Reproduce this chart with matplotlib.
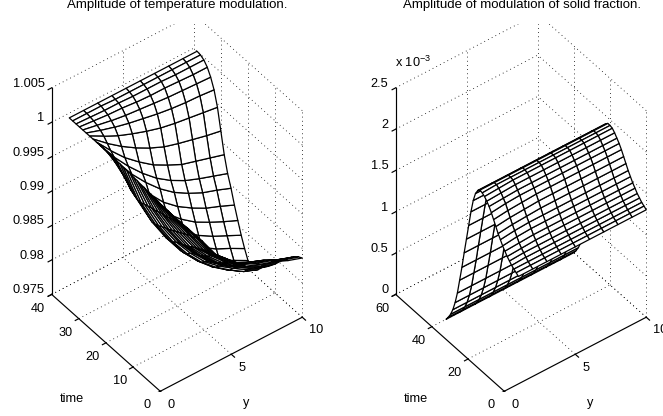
import numpy as np
import matplotlib
matplotlib.use('Agg')
import matplotlib.pyplot as plt

plt.rcParams['font.family'] = ['Liberation Sans', 'DejaVu Sans']
plt.rcParams['mathtext.default'] = 'regular'

# ---- data
y_nodes = [1, 2, 3, 4, 5, 6, 7, 8, 9, 10]

time_left = [38.75, 37.5, 36.25, 35, 33.75, 32.5, 31.25, 30, 28.75, 27.5, 26.25,
             25, 23.75, 22.5, 21.25, 20, 18.75, 17.5, 16.25, 15, 13.75, 12.5,
             11.25, 10, 8.75, 7.5, 6.25, 5, 3.75, 2.5, 1.25, 0]
temp_amp = [
    [1.0000, 1.0000, 1.0000, 1.0000, 1.0000, 1.0000, 1.0000, 1.0000, 1.0000, 1.0000],
    [1.0000, 1.0000, 1.0000, 0.9999, 0.9999, 0.9999, 0.9999, 0.9999, 0.9999, 0.9999],
    [1.0000, 0.9999, 0.9998, 0.9998, 0.9997, 0.9997, 0.9997, 0.9996, 0.9996, 0.9996],
    [1.0000, 0.9998, 0.9996, 0.9995, 0.9993, 0.9992, 0.9992, 0.9991, 0.9990, 0.9990],
    [1.0000, 0.9996, 0.9992, 0.9989, 0.9987, 0.9985, 0.9983, 0.9982, 0.9981, 0.9980],
    [1.0000, 0.9993, 0.9987, 0.9982, 0.9978, 0.9974, 0.9971, 0.9969, 0.9968, 0.9966],
    [1.0000, 0.9989, 0.9979, 0.9971, 0.9964, 0.9958, 0.9954, 0.9951, 0.9948, 0.9945],
    [1.0000, 0.9983, 0.9968, 0.9955, 0.9944, 0.9935, 0.9929, 0.9924, 0.9919, 0.9915],
    [1.0000, 0.9977, 0.9956, 0.9939, 0.9924, 0.9913, 0.9903, 0.9897, 0.9891, 0.9885],
    [1.0000, 0.9972, 0.9948, 0.9927, 0.9909, 0.9895, 0.9884, 0.9876, 0.9869, 0.9862],
    [1.0000, 0.9969, 0.9941, 0.9918, 0.9898, 0.9882, 0.9870, 0.9860, 0.9853, 0.9845],
    [1.0000, 0.9963, 0.9932, 0.9906, 0.9883, 0.9866, 0.9853, 0.9842, 0.9834, 0.9825],
    [1.0000, 0.9957, 0.9924, 0.9895, 0.9871, 0.9852, 0.9837, 0.9826, 0.9816, 0.9807],
    [1.0000, 0.9952, 0.9915, 0.9885, 0.9859, 0.9838, 0.9822, 0.9810, 0.9800, 0.9790],
    [0.9999, 0.9946, 0.9908, 0.9876, 0.9848, 0.9826, 0.9809, 0.9796, 0.9786, 0.9775],
    [0.9999, 0.9943, 0.9901, 0.9867, 0.9838, 0.9816, 0.9798, 0.9784, 0.9773, 0.9762],
    [0.9998, 0.9941, 0.9898, 0.9864, 0.9835, 0.9812, 0.9793, 0.9777, 0.9764, 0.9755],
    [0.9998, 0.9941, 0.9899, 0.9865, 0.9836, 0.9813, 0.9794, 0.9779, 0.9766, 0.9757],
    [0.9998, 0.9943, 0.9901, 0.9867, 0.9839, 0.9816, 0.9798, 0.9783, 0.9770, 0.9762],
    [0.9997, 0.9945, 0.9904, 0.9871, 0.9844, 0.9821, 0.9804, 0.9790, 0.9777, 0.9769],
    [0.9997, 0.9947, 0.9907, 0.9874, 0.9848, 0.9826, 0.9810, 0.9796, 0.9784, 0.9775],
    [0.9996, 0.9948, 0.9909, 0.9876, 0.9851, 0.9829, 0.9813, 0.9800, 0.9788, 0.9780],
    [0.9996, 0.9950, 0.9912, 0.9879, 0.9854, 0.9833, 0.9818, 0.9806, 0.9794, 0.9786],
    [0.9995, 0.9952, 0.9915, 0.9882, 0.9858, 0.9837, 0.9823, 0.9812, 0.9800, 0.9792],
    [0.9995, 0.9953, 0.9918, 0.9886, 0.9862, 0.9842, 0.9829, 0.9818, 0.9807, 0.9799],
    [0.9994, 0.9955, 0.9921, 0.9889, 0.9867, 0.9847, 0.9835, 0.9824, 0.9814, 0.9806],
    [0.9994, 0.9957, 0.9924, 0.9892, 0.9870, 0.9851, 0.9839, 0.9830, 0.9819, 0.9812],
    [0.9993, 0.9959, 0.9927, 0.9895, 0.9874, 0.9855, 0.9844, 0.9836, 0.9826, 0.9818],
    [0.9993, 0.9961, 0.9929, 0.9898, 0.9878, 0.9859, 0.9849, 0.9841, 0.9831, 0.9824],
    [0.9993, 0.9962, 0.9932, 0.9900, 0.9881, 0.9862, 0.9853, 0.9845, 0.9836, 0.9829],
    [0.9992, 0.9963, 0.9934, 0.9902, 0.9883, 0.9865, 0.9856, 0.9849, 0.9840, 0.9833],
    [0.9992, 0.9964, 0.9935, 0.9904, 0.9885, 0.9867, 0.9859, 0.9852, 0.9843, 0.9836],
]

time_right = [40, 38.75, 37.5, 36.25, 35, 33.75, 32.5, 31.25, 30, 28.75, 27.5, 26.25,
              25, 23.75, 22.5, 21.25, 20, 18.75, 17.5, 16.25, 15, 13.75, 12.5,
              11.25, 10, 8.75, 7.5, 6.25, 5, 3.75, 2.5, 1.25, 0]
# units of 1e-3
solid_amp = [
    [0.00, 0.00, 0.00, 0.00, 0.00, 0.00, 0.00, 0.00, 0.00, 0.00],
    [0.05, 0.05, 0.05, 0.05, 0.05, 0.05, 0.05, 0.05, 0.05, 0.05],
    [0.11, 0.11, 0.11, 0.11, 0.11, 0.11, 0.11, 0.11, 0.11, 0.11],
    [0.19, 0.19, 0.19, 0.19, 0.19, 0.19, 0.19, 0.19, 0.19, 0.19],
    [0.30, 0.30, 0.30, 0.30, 0.30, 0.30, 0.30, 0.30, 0.30, 0.30],
    [0.44, 0.44, 0.44, 0.44, 0.44, 0.44, 0.44, 0.44, 0.44, 0.44],
    [0.62, 0.62, 0.62, 0.62, 0.62, 0.62, 0.62, 0.62, 0.62, 0.62],
    [0.80, 0.80, 0.80, 0.80, 0.80, 0.80, 0.80, 0.80, 0.80, 0.80],
    [1.00, 1.00, 1.00, 1.00, 1.00, 1.00, 1.00, 1.00, 1.00, 1.00],
    [1.19, 1.19, 1.19, 1.19, 1.19, 1.19, 1.19, 1.19, 1.19, 1.19],
    [1.38, 1.38, 1.38, 1.38, 1.38, 1.38, 1.38, 1.38, 1.38, 1.38],
    [1.57, 1.57, 1.57, 1.57, 1.57, 1.57, 1.57, 1.57, 1.57, 1.57],
    [1.73, 1.73, 1.73, 1.73, 1.73, 1.73, 1.73, 1.73, 1.73, 1.73],
    [1.84, 1.84, 1.84, 1.84, 1.84, 1.84, 1.84, 1.84, 1.84, 1.84],
    [1.90, 1.90, 1.90, 1.90, 1.90, 1.90, 1.90, 1.90, 1.90, 1.90],
    [1.93, 1.93, 1.93, 1.93, 1.93, 1.93, 1.93, 1.93, 1.93, 1.93],
    [1.92, 1.93, 1.93, 1.93, 1.93, 1.93, 1.93, 1.93, 1.93, 1.93],
    [1.90, 1.91, 1.92, 1.92, 1.92, 1.92, 1.92, 1.92, 1.92, 1.92],
    [1.87, 1.88, 1.89, 1.89, 1.89, 1.89, 1.89, 1.89, 1.89, 1.89],
    [1.83, 1.84, 1.85, 1.85, 1.85, 1.85, 1.85, 1.85, 1.85, 1.85],
    [1.78, 1.80, 1.81, 1.81, 1.81, 1.81, 1.81, 1.81, 1.81, 1.81],
    [1.72, 1.74, 1.75, 1.76, 1.76, 1.76, 1.76, 1.76, 1.76, 1.76],
    [1.66, 1.68, 1.69, 1.70, 1.70, 1.70, 1.70, 1.70, 1.70, 1.70],
    [1.60, 1.62, 1.63, 1.64, 1.64, 1.64, 1.64, 1.64, 1.64, 1.64],
    [1.55, 1.57, 1.58, 1.58, 1.58, 1.58, 1.58, 1.58, 1.58, 1.58],
    [1.50, 1.52, 1.53, 1.53, 1.53, 1.53, 1.53, 1.53, 1.53, 1.53],
    [1.46, 1.47, 1.48, 1.48, 1.48, 1.48, 1.48, 1.48, 1.48, 1.48],
    [1.42, 1.43, 1.44, 1.44, 1.44, 1.44, 1.44, 1.44, 1.44, 1.44],
    [1.39, 1.40, 1.40, 1.40, 1.40, 1.40, 1.40, 1.40, 1.40, 1.40],
    [1.36, 1.37, 1.37, 1.37, 1.37, 1.37, 1.37, 1.37, 1.37, 1.37],
    [1.34, 1.34, 1.34, 1.34, 1.34, 1.34, 1.34, 1.34, 1.34, 1.34],
    [1.32, 1.32, 1.32, 1.32, 1.32, 1.32, 1.32, 1.32, 1.32, 1.32],
    [1.30, 1.30, 1.30, 1.30, 1.30, 1.30, 1.30, 1.30, 1.30, 1.30],
]

y_ticks = [0, 5, 10]
time_ticks_left = [0, 10, 20, 30, 40]
time_ticks_right = [0, 20, 40, 60]
z_ticks_left = [0.975, 0.98, 0.985, 0.99, 0.995, 1, 1.005]
z_labels_left = ['0.975', '0.98', '0.985', '0.99', '0.995', '1', '1.005']
z_ticks_right = [0, 0.5, 1, 1.5, 2, 2.5]
z_labels_right = ['0', '0.5', '1', '1.5', '2', '2.5']

FS = 9.2
W, H = 663, 416
AX_PX = 368


def draw_panel(left_px, bottom_px, time, amp, t_ticks, z_ticks, z_labels):
    ax = fig.add_axes([left_px / W, bottom_px / H, AX_PX / W, AX_PX / H],
                      projection='3d', proj_type='ortho', computed_zorder=False)
    ax.set_axis_off()
    ax.patch.set_alpha(0)
    ax.view_init(elev=43, azim=-127.4)
    ax.set_box_aspect((1, 1, 1.58))
    tmax = t_ticks[-1]
    zmin, zmax = z_ticks[0], z_ticks[-1]
    zspan = zmax - zmin
    ax.set_xlim(0, 10, view_margin=0)
    ax.set_ylim(0, tmax, view_margin=0)
    ax.set_zlim(zmin, zmax, view_margin=0)
    # the box is drawn by hand below, so the built-in tick labels stay empty
    ax.set_xticks([])
    ax.set_yticks([])
    ax.set_zticks([])

    grid = dict(color='k', lw=0.6, ls=(0, (1, 4)), zorder=1)
    # floor
    for v in y_ticks[1:]:
        ax.plot([v, v], [0, tmax], [zmin, zmin], **grid)
    for v in t_ticks[1:]:
        ax.plot([0, 10], [v, v], [zmin, zmin], **grid)
    # back wall time = max
    for v in z_ticks:
        ax.plot([0, 10], [tmax, tmax], [v, v], **grid)
    for v in y_ticks[1:]:
        ax.plot([v, v], [tmax, tmax], [zmin, zmax], **grid)
    # side wall y = 10
    for v in z_ticks:
        ax.plot([10, 10], [0, tmax], [v, v], **grid)
    for v in t_ticks[:-1]:
        ax.plot([10, 10], [v, v], [zmin, zmax], **grid)

    Y, T = np.meshgrid(y_nodes, time)
    ax.plot_surface(Y, T, np.array(amp), rstride=1, cstride=1, color='w',
                    edgecolor='k', linewidth=0.9, shade=False, zorder=2)

    solid = dict(color='k', lw=0.85, zorder=3)
    ax.plot([0, 10], [0, 0], [zmin, zmin], **solid)
    ax.plot([0, 0], [0, tmax], [zmin, zmin], **solid)
    ax.plot([0, 0], [tmax, tmax], [zmin, zmax], **solid)

    for v in y_ticks:
        ax.plot([v, v], [0, -0.03 * tmax], [zmin, zmin], **solid)
        ax.text(v + 0.025 * len(str(v)) ** 3, -0.1 * tmax, zmin - 0.02 * zspan, str(v),
                fontsize=FS, ha='center', va='center')
    for v in t_ticks:
        ax.plot([0, -0.25], [v, v], [zmin, zmin], **solid)
        ax.text(-1.1, v - 0.02 * tmax, zmin - 0.02 * zspan, str(v), fontsize=FS,
                ha='center', va='center')
    for v, s in zip(z_ticks, z_labels):
        ax.plot([0, -0.25], [tmax, tmax], [v, v], **solid)
        ax.text(-0.5, tmax, v + 0.038 * zspan, s, fontsize=FS, ha='right', va='center')

    ax.text(-4.15, 0.27 * tmax, zmin - 0.015 * zspan, 'time', fontsize=FS, ha='center', va='center')
    ax.text(3.37, -0.346 * tmax, zmin - 0.015 * zspan, 'y', fontsize=FS, ha='center', va='center')
    return ax


fig = plt.figure(figsize=(W / 100, H / 100), dpi=100)

draw_panel(-12, 24.5, time_left, temp_amp, time_ticks_left, z_ticks_left, z_labels_left)
draw_panel(332, 24.5, time_right, solid_amp, time_ticks_right, z_ticks_right, z_labels_right)

fig.text(177.5 / W, 1 - 5 / H, 'Amplitude of temperature modulation.', fontsize=9.5,
         ha='center', va='center')
fig.text(522 / W, 1 - 5 / H, 'Amplitude of modulation of solid fraction.', fontsize=9.5,
         ha='center', va='center')
fig.text(413 / W, 1 - 62 / H, r'x 10$^{-3}$', fontsize=FS, ha='center', va='center')

fig.savefig('out.png', dpi=100)
